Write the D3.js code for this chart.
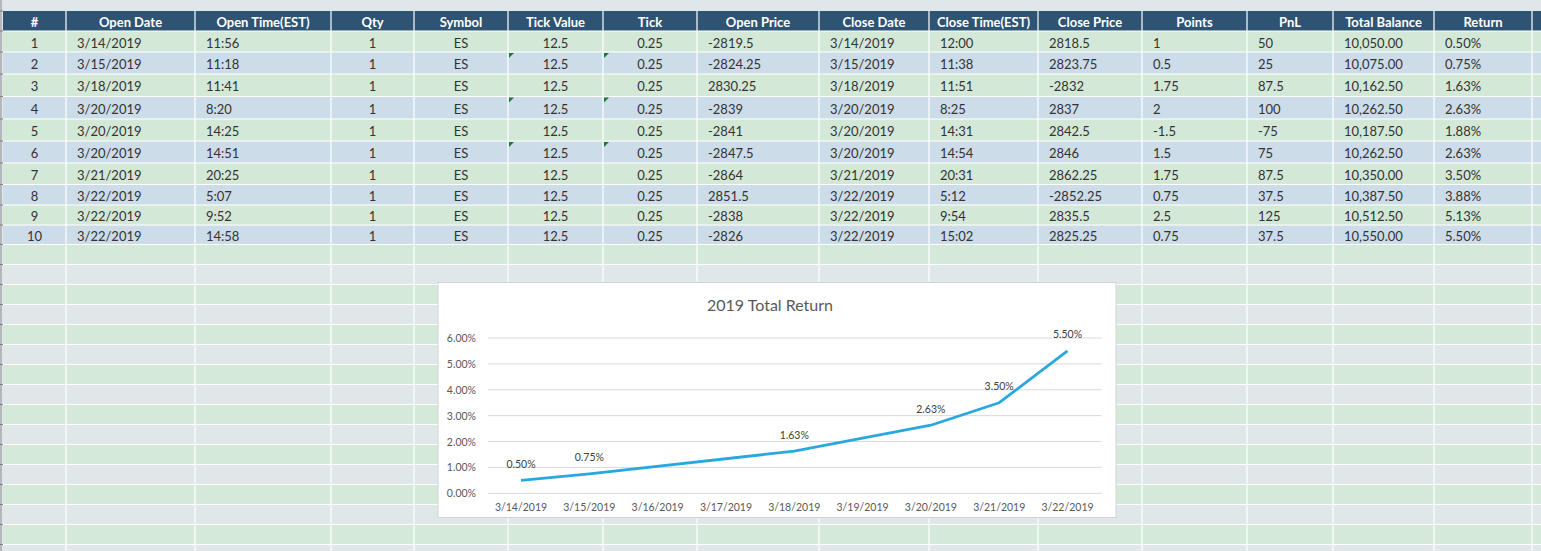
<!DOCTYPE html>
<html>
<head>
<meta charset="utf-8">
<script src="https://cdn.jsdelivr.net/npm/d3@7"></script>
<style>
  html, body { margin: 0; padding: 0; background: #dfe7ea; overflow: hidden; }
  svg { display: block; font-family: Lato, "Open Sans", sans-serif; }
</style>
</head>
<body>
<div id="sheet"></div>
<script>
// ////////////////////////////////////////////////////////////////////////////
// DATA - trade log
// ////////////////////////////////////////////////////////////////////////////
const headers = ['#', 'Open Date', 'Open Time(EST)', 'Qty', 'Symbol', 'Tick Value', 'Tick',
  'Open Price', 'Close Date', 'Close Time(EST)', 'Close Price', 'Points', 'PnL', 'Total Balance', 'Return'];

const tradeNo = ['1', '2', '3', '4', '5', '6', '7', '8', '9', '10'];
const openDates = ['3/14/2019', '3/15/2019', '3/18/2019', '3/20/2019', '3/20/2019',
  '3/20/2019', '3/21/2019', '3/22/2019', '3/22/2019', '3/22/2019'];
const openTimes = ['11:56', '11:18', '11:41', '8:20', '14:25', '14:51', '20:25', '5:07', '9:52', '14:58'];
const qty = ['1', '1', '1', '1', '1', '1', '1', '1', '1', '1'];
const symbols = ['ES', 'ES', 'ES', 'ES', 'ES', 'ES', 'ES', 'ES', 'ES', 'ES'];
const tickValues = ['12.5', '12.5', '12.5', '12.5', '12.5', '12.5', '12.5', '12.5', '12.5', '12.5'];
const ticks = ['0.25', '0.25', '0.25', '0.25', '0.25', '0.25', '0.25', '0.25', '0.25', '0.25'];
const openPrices = ['-2819.5', '-2824.25', '2830.25', '-2839', '-2841', '-2847.5', '-2864', '2851.5', '-2838', '-2826'];
const closeDates = ['3/14/2019', '3/15/2019', '3/18/2019', '3/20/2019', '3/20/2019',
  '3/20/2019', '3/21/2019', '3/22/2019', '3/22/2019', '3/22/2019'];
const closeTimes = ['12:00', '11:38', '11:51', '8:25', '14:31', '14:54', '20:31', '5:12', '9:54', '15:02'];
const closePrices = ['2818.5', '2823.75', '-2832', '2837', '2842.5', '2846', '2862.25', '-2852.25', '2835.5', '2825.25'];
const points = ['1', '0.5', '1.75', '2', '-1.5', '1.5', '1.75', '0.75', '2.5', '0.75'];
const pnl = ['50', '25', '87.5', '100', '-75', '75', '87.5', '37.5', '125', '37.5'];
const totalBalance = ['10,050.00', '10,075.00', '10,162.50', '10,262.50', '10,187.50',
  '10,262.50', '10,350.00', '10,387.50', '10,512.50', '10,550.00'];
const returns = ['0.50%', '0.75%', '1.63%', '2.63%', '1.88%', '2.63%', '3.50%', '3.88%', '5.13%', '5.50%'];

// rows whose Tick Value / Tick cells carry the green "number as text" flag
const flaggedRows = [2, 4, 6];

// DATA - chart series (last return of each trading day)
const chartDates = ['2019-03-14', '2019-03-15', '2019-03-18', '2019-03-20', '2019-03-21', '2019-03-22'];
const chartReturns = [0.005, 0.0075, 0.0163, 0.0263, 0.035, 0.055];

// ////////////////////////////////////////////////////////////////////////////
// LAYOUT
// ////////////////////////////////////////////////////////////////////////////
const W = 1541;
const H = 551;
const colEdges = [3, 66, 195, 331, 414, 508, 603, 697, 819, 929, 1038, 1142, 1247, 1333, 1434, 1532];
const centered = [true, false, false, true, true, true, true, false, false, false, false, false, false, false, false];
const headerTop = 11;
const headerBottom = 31;
const dataRowEdges = [31, 52, 74, 96.5, 119, 141, 163, 184.5, 205, 225, 244.5];
const emptyRowH = 20;

const columns = [tradeNo, openDates, openTimes, qty, symbols, tickValues, ticks, openPrices,
  closeDates, closeTimes, closePrices, points, pnl, totalBalance, returns];

const svg = d3.select('#sheet').append('svg')
  .attr('width', W)
  .attr('height', H);

svg.append('rect').attr('width', W).attr('height', H).attr('fill', '#dfe7ea');

// empty spreadsheet rows below the data
const emptyRows = d3.range(Math.ceil((H - dataRowEdges[10]) / emptyRowH));
svg.append('g').selectAll('rect')
  .data(emptyRows)
  .enter().append('rect')
    .attr('x', colEdges[0])
    .attr('y', d => dataRowEdges[10] + d * emptyRowH)
    .attr('width', W - colEdges[0])
    .attr('height', emptyRowH)
    .attr('fill', d => (d % 2 === 0 ? '#d4e9d9' : '#dfe7e9'));

// data rows
const rows = d3.range(tradeNo.length);
svg.append('g').selectAll('rect')
  .data(rows)
  .enter().append('rect')
    .attr('x', colEdges[0])
    .attr('y', d => dataRowEdges[d])
    .attr('width', W - colEdges[0])
    .attr('height', d => dataRowEdges[d + 1] - dataRowEdges[d])
    .attr('fill', d => (d % 2 === 0 ? '#d3e8d7' : '#ccdce8'));

// header band
svg.append('rect')
  .attr('x', colEdges[0])
  .attr('y', headerTop)
  .attr('width', W - colEdges[0])
  .attr('height', headerBottom - headerTop)
  .attr('fill', '#2f5473');

// white cell borders
const hLines = dataRowEdges.concat(emptyRows.map(d => dataRowEdges[10] + (d + 1) * emptyRowH));
svg.append('g').selectAll('line')
  .data(hLines)
  .enter().append('line')
    .attr('x1', colEdges[0])
    .attr('x2', W)
    .attr('y1', d => d)
    .attr('y2', d => d)
    .attr('stroke', '#ffffff')
    .attr('stroke-width', 1.2);

svg.append('g').selectAll('line')
  .data(colEdges.slice(1))
  .enter().append('line')
    .attr('x1', d => d)
    .attr('x2', d => d)
    .attr('y1', headerTop)
    .attr('y2', H)
    .attr('stroke', '#ffffff')
    .attr('stroke-width', 1.2);

// left window edge with row ticks
svg.append('rect').attr('x', 0).attr('y', 0).attr('width', 2).attr('height', H).attr('fill', '#b4b8ba');
svg.append('g').selectAll('line')
  .data([headerTop].concat(hLines))
  .enter().append('line')
    .attr('x1', 0).attr('x2', 3)
    .attr('y1', d => d).attr('y2', d => d)
    .attr('stroke', '#7d8184');

// header text
function textX(c) {
  return centered[c] ? (colEdges[c] + colEdges[c + 1]) / 2 : colEdges[c] + 11;
}

svg.append('g').selectAll('text')
  .data(headers)
  .enter().append('text')
    .attr('x', (d, i) => (colEdges[i] + colEdges[i + 1]) / 2)
    .attr('y', (headerTop + headerBottom) / 2 + 0.5)
    .attr('text-anchor', 'middle')
    .attr('dominant-baseline', 'central')
    .attr('fill', '#ffffff')
    .style('font-weight', 700)
    .style('font-size', '13px')
    .text(d => d);

// cell text
const cells = [];
columns.forEach((col, c) => {
  col.forEach((v, r) => cells.push({ c, r, v }));
});

svg.append('g').selectAll('text')
  .data(cells)
  .enter().append('text')
    .attr('x', d => textX(d.c))
    .attr('y', d => (dataRowEdges[d.r] + dataRowEdges[d.r + 1]) / 2 + 1)
    .attr('text-anchor', d => (centered[d.c] ? 'middle' : 'start'))
    .attr('dominant-baseline', 'central')
    .attr('fill', '#333333')
    .style('font-size', '13px')
    .text(d => d.v);

// green error flags
const flags = [];
flaggedRows.forEach((r) => { flags.push({ r, c: 5 }); flags.push({ r, c: 6 }); });
svg.append('g').selectAll('path')
  .data(flags)
  .enter().append('path')
    .attr('d', (d) => {
      const x0 = colEdges[d.c] + 1;
      const y0 = dataRowEdges[d.r - 1] + 1;
      return `M${x0},${y0}h5l-5,5z`;
    })
    .attr('fill', '#1f7a32');

// ////////////////////////////////////////////////////////////////////////////
// CHART - 2019 Total Return
// ////////////////////////////////////////////////////////////////////////////
const box = { x: 438, y: 282.5, w: 678, h: 235 };

const chart = svg.append('g');
chart.append('rect')
  .attr('x', box.x)
  .attr('y', box.y)
  .attr('width', box.w)
  .attr('height', box.h)
  .attr('fill', '#ffffff')
  .attr('stroke', '#d0d4d6');

chart.append('text')
  .attr('x', 770)
  .attr('y', 304)
  .attr('text-anchor', 'middle')
  .attr('dominant-baseline', 'central')
  .attr('fill', '#595959')
  .style('font-size', '16px')
  .text('2019 Total Return');

const parseDay = d3.timeParse('%Y-%m-%d');
const days = chartDates.map(parseDay);

const x = d3.scaleTime()
  .domain([days[0], days[days.length - 1]])
  .range([521, 1067.5]);

const y = d3.scaleLinear()
  .domain([0, 0.06])
  .range([493.3, 338]);

const gridLeft = 488;
const gridRight = 1101.5;

chart.append('g').selectAll('line')
  .data(y.ticks(6))
  .enter().append('line')
    .attr('x1', gridLeft)
    .attr('x2', gridRight)
    .attr('y1', d => y(d))
    .attr('y2', d => y(d))
    .attr('stroke', '#d9d9d9')
    .attr('stroke-width', 1);

chart.append('g').selectAll('text')
  .data(y.ticks(6))
  .enter().append('text')
    .attr('x', 476)
    .attr('y', d => y(d))
    .attr('text-anchor', 'end')
    .attr('dominant-baseline', 'central')
    .attr('fill', '#595959')
    .style('font-size', '10.5px')
    .text(d => d3.format('.2%')(d));

chart.append('g').selectAll('text')
  .data(d3.timeDay.range(days[0], d3.timeDay.offset(days[days.length - 1], 1)))
  .enter().append('text')
    .attr('x', d => x(d))
    .attr('y', 507)
    .attr('text-anchor', 'middle')
    .attr('dominant-baseline', 'central')
    .attr('fill', '#595959')
    .style('font-size', '10.5px')
    .text(d => d3.timeFormat('%-m/%-d/%Y')(d));

const series = days.map((d, i) => ({ date: d, value: chartReturns[i] }));

const line = d3.line()
  .x(d => x(d.date))
  .y(d => y(d.value));

chart.append('path')
  .datum(series)
  .attr('d', line)
  .attr('fill', 'none')
  .attr('stroke', '#2aa7de')
  .attr('stroke-width', 2.8)
  .attr('stroke-linejoin', 'round');

chart.append('g').selectAll('text')
  .data(series)
  .enter().append('text')
    .attr('x', d => x(d.date))
    .attr('y', d => y(d.value) - 16.5)
    .attr('text-anchor', 'middle')
    .attr('dominant-baseline', 'central')
    .attr('fill', '#404040')
    .style('font-size', '10.5px')
    .text(d => d3.format('.2%')(d.value));
</script>
</body>
</html>
